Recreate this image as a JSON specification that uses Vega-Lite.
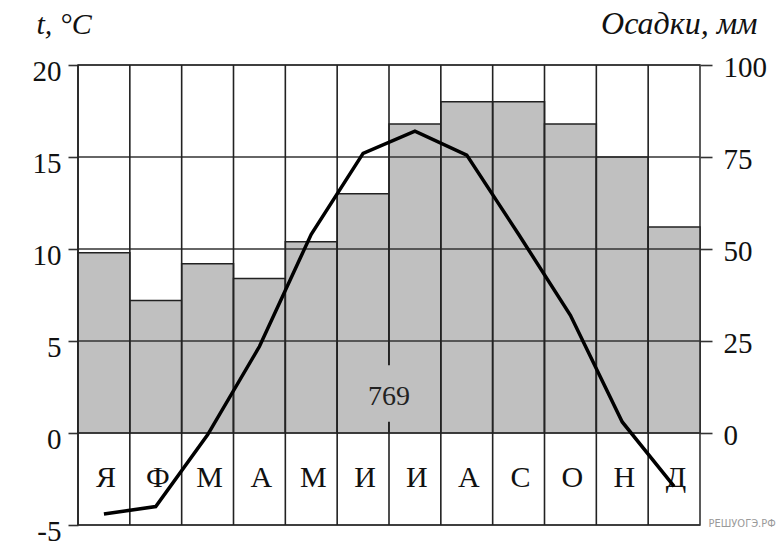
{
  "$schema": "https://vega.github.io/schema/vega-lite/v6.json",
  "width": 622,
  "height": 460,
  "autosize": {"type": "none"},
  "padding": {"left": 78, "top": 65, "right": 77, "bottom": 29},
  "background": "white",
  "config": {"view": {"stroke": "#333", "strokeWidth": 1.6}, "font": "Liberation Serif"},
  "datasets": {
    "climate": [
      {"month": 1, "letter": "Я", "t": -4.4, "p": 49},
      {"month": 2, "letter": "Ф", "t": -4.0, "p": 36},
      {"month": 3, "letter": "М", "t": -0.1, "p": 46},
      {"month": 4, "letter": "А", "t": 4.7, "p": 42},
      {"month": 5, "letter": "М", "t": 10.8, "p": 52},
      {"month": 6, "letter": "И", "t": 15.2, "p": 65},
      {"month": 7, "letter": "И", "t": 16.4, "p": 84},
      {"month": 8, "letter": "А", "t": 15.1, "p": 90},
      {"month": 9, "letter": "С", "t": 10.8, "p": 90},
      {"month": 10, "letter": "О", "t": 6.4, "p": 84},
      {"month": 11, "letter": "Н", "t": 0.6, "p": 75},
      {"month": 12, "letter": "Д", "t": -2.9, "p": 56}
    ],
    "levels": [{"v": -5}, {"v": 0}, {"v": 5}, {"v": 10}, {"v": 15}, {"v": 20}],
    "total": [{"mm": 769}]
  },
  "layer": [
    {
      "data": {"name": "climate"},
      "mark": {"type": "bar", "fill": "#c0c0c0", "stroke": "#222", "strokeWidth": 1.5},
      "encoding": {
        "x": {"field": "month", "type": "ordinal", "scale": {"paddingInner": 0, "paddingOuter": 0}, "axis": null},
        "y": {
          "field": "p", "type": "quantitative",
          "scale": {"domain": [-25, 100], "nice": false, "zero": false},
          "axis": {
            "orient": "right",
            "values": [-25, 0, 25, 50, 75, 100],
            "title": "Осадки, мм",
            "grid": false, "domain": false,
            "tickSize": 12, "tickColor": "#333", "tickWidth": 1.6,
            "tickOpacity": {"condition": {"test": "datum.value < 0", "value": 0}, "value": 1},
            "labelFont": {"condition": {"test": "datum.value < 0", "value": "DejaVu Sans Condensed"}, "value": "Liberation Serif"},
            "labelFontSize": {"condition": {"test": "datum.value < 0", "value": 11}, "value": 29},
            "labelColor": {"condition": {"test": "datum.value < 0", "value": "#9a9a9a"}, "value": "#111"},
            "labelPadding": {"condition": {"test": "datum.value < 0", "value": -4}, "value": 11},
            "labelOffset": {"condition": {"test": "datum.value < 0", "value": -2}, "value": 2},
            "labelExpr": "datum.value < 0 ? 'РЕШУОГЭ.РФ' : '' + datum.value",
            "labelBaseline": "middle",
            "labelFlush": false, "labelOverlap": false, "labelBound": false,
            "titleAngle": 0, "titleAlign": "right", "titleBaseline": "alphabetic",
            "titleX": 57, "titleY": -32,
            "titleFont": "Liberation Serif", "titleFontStyle": "italic", "titleFontWeight": "normal",
            "titleFontSize": 32, "titleColor": "#111"
          }
        },
        "y2": {"datum": 0}
      }
    },
    {
      "data": {"name": "levels"},
      "mark": {"type": "rule", "color": "#333", "strokeWidth": 1.6},
      "encoding": {
        "y": {
          "field": "v", "type": "quantitative",
          "scale": {"domain": [-5, 20], "nice": false, "zero": false},
          "axis": {
            "orient": "left",
            "values": [-5, 0, 5, 10, 15, 20],
            "title": "t, °C",
            "grid": false, "domain": false,
            "tickSize": 10, "tickColor": "#333", "tickWidth": 1.6,
            "labelFont": "Liberation Serif", "labelFontSize": 29, "labelColor": "#111",
            "labelPadding": 7, "labelOffset": 6,
            "labelExpr": "'' + datum.value",
            "labelBaseline": "middle",
            "labelFlush": false, "labelOverlap": false, "labelBound": false,
            "titleAngle": 0, "titleAlign": "left", "titleBaseline": "alphabetic",
            "titleX": -42, "titleY": -32,
            "titleFont": "Liberation Serif", "titleFontStyle": "italic", "titleFontWeight": "normal",
            "titleFontSize": 30, "titleColor": "#111"
          }
        }
      }
    },
    {
      "data": {"name": "climate"},
      "mark": {"type": "rule", "color": "#222", "strokeWidth": 1.6},
      "encoding": {
        "x": {"field": "month", "type": "ordinal", "bandPosition": 0, "axis": null}
      }
    },
    {
      "data": {"name": "total"},
      "mark": {"type": "point", "shape": "square", "filled": true, "fill": "#c0c0c0", "opacity": 1, "strokeWidth": 0, "size": 3200},
      "encoding": {
        "x": {"datum": 7, "type": "ordinal", "bandPosition": 0, "axis": null},
        "y": {"datum": 2.15, "type": "quantitative", "scale": {"domain": [-5, 20], "nice": false, "zero": false}, "axis": null}
      }
    },
    {
      "data": {"name": "total"},
      "mark": {"type": "text", "font": "Liberation Serif", "fontSize": 28, "color": "#222", "baseline": "middle", "align": "center"},
      "encoding": {
        "x": {"datum": 7, "type": "ordinal", "bandPosition": 0, "axis": null},
        "y": {"datum": 1.95, "type": "quantitative", "scale": {"domain": [-5, 20], "nice": false, "zero": false}, "axis": null},
        "text": {"field": "mm", "type": "quantitative"}
      }
    },
    {
      "data": {"name": "climate"},
      "mark": {"type": "text", "font": "Liberation Serif", "fontSize": 30, "color": "#111", "baseline": "middle", "align": "center", "dx": 2},
      "encoding": {
        "x": {"field": "month", "type": "ordinal", "axis": null},
        "y": {"datum": -2.45, "type": "quantitative", "scale": {"domain": [-5, 20], "nice": false, "zero": false}, "axis": null},
        "text": {"field": "letter", "type": "nominal"}
      }
    },
    {
      "data": {"name": "climate"},
      "mark": {"type": "line", "color": "#000", "strokeWidth": 3.5},
      "encoding": {
        "x": {"field": "month", "type": "ordinal", "axis": null},
        "y": {"field": "t", "type": "quantitative", "scale": {"domain": [-5, 20], "nice": false, "zero": false}, "axis": null}
      }
    }
  ],
  "resolve": {"scale": {"y": "independent"}, "axis": {"y": "independent"}}
}
